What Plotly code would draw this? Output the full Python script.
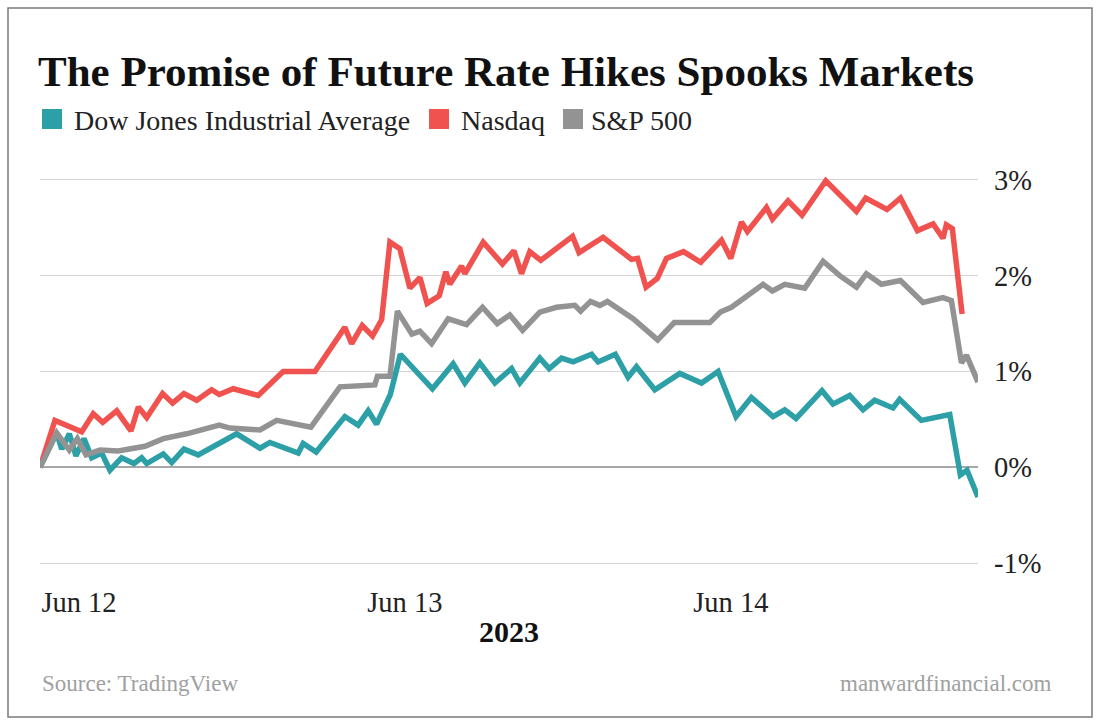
import pandas as pd
import plotly.graph_objects as go

# Hours since 2023-06-12 00:00 and percent change
dow_hours = [0, 1.23, 1.60, 2.16, 2.65, 3.24, 3.81, 4.54, 5.15, 6.01, 6.92, 7.49, 7.86, 9.08, 9.70,
             10.60, 11.65, 14.48, 16.20, 16.93, 19.02, 19.38, 20.34, 22.45, 23.43, 24.17, 24.79,
             25.80, 26.54, 27.72, 28.90, 30.43, 31.29, 32.39, 33.50, 34.73, 35.34, 36.81, 37.50,
             38.41, 39.26, 40.62, 41.10, 42.37, 43.31, 43.93, 45.28, 47.12, 48.72, 49.94, 51.26,
             52.39, 53.99, 54.85, 55.68, 57.59, 58.40, 59.63, 60.61, 61.47, 62.82, 63.31, 64.91,
             67.00, 67.78, 68.27, 69.08]
dow_pct = [0, 0.36, 0.19, 0.35, 0.12, 0.30, 0.10, 0.15, -0.03, 0.10, 0.04, 0.10, 0.04, 0.14, 0.05,
           0.19, 0.13, 0.35, 0.20, 0.26, 0.15, 0.25, 0.16, 0.53, 0.44, 0.59, 0.45,
           0.76, 1.18, 1.01, 0.82, 1.08, 0.88, 1.09, 0.88, 1.03, 0.88, 1.14, 1.03,
           1.14, 1.10, 1.18, 1.10, 1.18, 0.94, 1.05, 0.81, 0.98, 0.88, 1.00, 0.53,
           0.73, 0.53, 0.60, 0.51, 0.80, 0.66, 0.75, 0.60, 0.70, 0.62, 0.71, 0.49,
           0.55, -0.08, -0.03, -0.31]

nasdaq_hours = [0, 1.1, 3.07, 3.92, 4.62, 5.65, 6.70, 7.24, 7.86, 9.03, 9.77, 10.60, 11.54, 12.64,
                13.20, 14.23, 16.07, 17.91, 20.25, 22.45, 22.95, 23.73, 24.49, 25.16, 25.77, 26.50,
                27.24, 27.98, 28.51, 29.40, 29.89, 30.18, 31.05, 31.29, 32.64, 34.06, 34.90, 35.46,
                36.07, 36.88, 39.22, 39.70, 41.47, 43.56, 44.01, 44.63, 45.46, 46.14, 47.39, 48.66,
                50.19, 50.87, 51.66, 52.10, 53.50, 53.94, 55.09, 56.12, 57.87, 60.13, 60.81, 62.38,
                63.37, 64.62, 65.77, 66.50, 66.75, 67.19, 67.91]
nasdaq_pct = [0, 0.49, 0.37, 0.56, 0.47, 0.59, 0.38, 0.63, 0.52, 0.77, 0.67, 0.77, 0.70, 0.81,
              0.76, 0.82, 0.75, 1.00, 1.00, 1.46, 1.29, 1.48, 1.37, 1.54, 2.35, 2.28,
              1.87, 1.98, 1.71, 1.79, 2.04, 1.91, 2.10, 2.02, 2.35, 2.12, 2.26, 2.02,
              2.25, 2.16, 2.41, 2.24, 2.40, 2.17, 2.18, 1.88, 1.97, 2.18, 2.25, 2.14,
              2.37, 2.18, 2.56, 2.46, 2.71, 2.59, 2.78, 2.63, 2.99, 2.67, 2.81, 2.69,
              2.81, 2.47, 2.54, 2.39, 2.53, 2.49, 1.60]

sp_hours = [0, 1.23, 2.16, 2.75, 3.39, 4.42, 5.76, 7.73, 9.08, 10.80, 13.20, 13.99, 16.20, 17.43,
            19.95, 22.09, 24.66, 24.85, 25.77, 26.32, 27.39, 27.98, 28.84, 30.06, 31.41, 32.59,
            33.67, 34.60, 35.54, 36.81, 38.04, 39.39, 39.81, 40.54, 41.23, 41.79, 43.68, 45.49,
            46.71, 49.33, 50.11, 50.92, 53.25, 53.94, 54.85, 56.32, 57.67, 58.90, 60.13, 60.86,
            61.97, 63.37, 65.03, 66.50, 67.12, 67.86, 68.23, 69.08]
sp_pct = [0, 0.36, 0.18, 0.30, 0.13, 0.18, 0.17, 0.22, 0.30, 0.35, 0.44, 0.41, 0.39, 0.49,
          0.42, 0.84, 0.86, 0.95, 0.95, 1.63, 1.39, 1.42, 1.29, 1.55, 1.49, 1.67,
          1.50, 1.59, 1.43, 1.62, 1.67, 1.69, 1.63, 1.73, 1.69, 1.73, 1.55, 1.33,
          1.51, 1.51, 1.62, 1.67, 1.91, 1.84, 1.91, 1.87, 2.15, 2.00, 1.88, 2.02,
          1.91, 1.95, 1.72, 1.77, 1.74, 1.09, 1.17, 0.89]

series_names = ["Dow Jones Industrial Average", "Nasdaq", "S&P 500"]
series_colors = ["#2DA0A7", "#F0524F", "#939393"]
tick_pcts = [-1, 0, 1, 2, 3]
tick_labels = ["-1%", "0%", "1%", "2%", "3%"]
date_ticks = ["2023-06-12", "2023-06-13", "2023-06-14"]

start = pd.Timestamp("2023-06-12")


def to_time(hours):
    return [start + pd.Timedelta(hours=h) for h in hours]


FONT = "Liberation Serif"

# plot-area geometry (pixels) used to place layout decorations
L, T, W, H = 40, 175, 938, 393


def px(x):
    return (x - L) / W


def py(y):
    return (T + H - y) / H


fig = go.Figure()
for name, hours, pct, color in zip(series_names,
                                   [dow_hours, nasdaq_hours, sp_hours],
                                   [dow_pct, nasdaq_pct, sp_pct],
                                   series_colors):
    fig.add_trace(go.Scatter(x=to_time(hours), y=pct, mode="lines", name=name,
                             line=dict(color=color, width=5.5), showlegend=False,
                             hoverinfo="skip"))

x_end = start + pd.Timedelta(hours=69.08)

# manual legend: swatch left edges and text left edges (pixels)
legend_swatch_x = [42, 429, 563]
legend_text_x = [72, 459, 589]
shapes = [dict(type="rect", xref="paper", yref="paper",
               x0=px(8), x1=px(1092), y0=py(717), y1=py(8),
               line=dict(color="#7A7A7A", width=1.5), fillcolor="rgba(0,0,0,0)",
               layer="below")]
annotations = []
for name, color, sx, tx in zip(series_names, series_colors, legend_swatch_x, legend_text_x):
    shapes.append(dict(type="rect", xref="paper", yref="paper",
                       x0=px(sx), x1=px(sx + 20), y0=py(129), y1=py(109),
                       line=dict(width=0), fillcolor=color))
    annotations.append(dict(text=name, xref="paper", yref="paper", x=px(tx), y=py(120),
                            xanchor="left", yanchor="middle", showarrow=False,
                            font=dict(family=FONT, size=28, color="#222222")))

annotations += [
    dict(text="<b>2023</b>", xref="paper", yref="paper", x=0.5, y=py(631),
         xanchor="center", yanchor="middle", showarrow=False,
         font=dict(family=FONT, size=30, color="#111111")),
    dict(text="Source: TradingView", xref="paper", yref="paper", x=0, y=py(683),
         xanchor="left", yanchor="middle", showarrow=False,
         font=dict(family=FONT, size=23, color="#A0A0A0")),
    dict(text="manwardfinancial.com", xref="paper", yref="paper", x=px(1053),
         y=py(683), xanchor="right", yanchor="middle", showarrow=False,
         font=dict(family=FONT, size=23, color="#A0A0A0")),
]

fig.update_layout(
    width=1100, height=726,
    margin=dict(l=L, r=1100 - L - W, t=T, b=726 - T - H),
    paper_bgcolor="white", plot_bgcolor="white",
    font=dict(family=FONT, color="#222222"),
    showlegend=False,
    hovermode=False,
    title=dict(text="<b>The Promise of Future Rate Hikes Spooks Markets</b>",
               font=dict(family=FONT, size=43, color="#111111"),
               x=38 / 1100, xanchor="left", xref="container",
               y=1 - 71 / 726, yanchor="middle", yref="container"),
    xaxis=dict(range=[start, x_end], showgrid=False, zeroline=False, showline=False,
               tickvals=[pd.Timestamp(d) for d in date_ticks], tickformat="%b %d",
               ticks="", tickfont=dict(family=FONT, size=28.5, color="#222222"),
               ticklabelshift=39, ticklabelstandoff=14),
    yaxis=dict(range=[-1.05, 3.05], side="right", tickvals=tick_pcts, ticktext=tick_labels,
               showgrid=True, gridcolor="#D6D6D6", gridwidth=1,
               zeroline=True, zerolinecolor="#A8A8A8", zerolinewidth=2,
               showline=False, ticks="", ticklabelstandoff=15,
               tickfont=dict(family=FONT, size=28.5, color="#222222")),
    shapes=shapes,
    annotations=annotations,
)

fig.write_html("out.html", config={"displayModeBar": False},
               post_script="document.body.style.margin='0';")
